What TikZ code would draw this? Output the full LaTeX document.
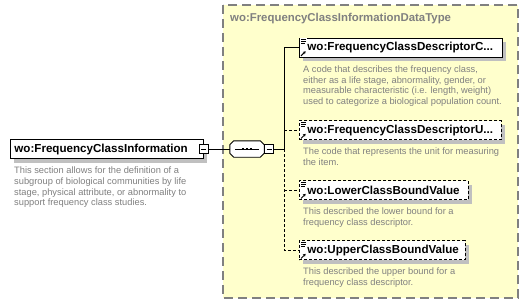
\documentclass[tikz,border=0pt]{standalone}
\usepackage{fontspec}
\setmainfont{Liberation Sans}
\usetikzlibrary{calc,shadows,arrows.meta}
\definecolor{typebg}{RGB}{255,255,204}
\definecolor{typeedge}{RGB}{128,128,128}
\definecolor{doctext}{RGB}{128,128,128}
\definecolor{shadowgray}{RGB}{192,192,192}

% small marker drawn at the left end of an element box
\newcommand\elemicons[1]{%
  \fill[white] ($(#1.north west)+(0.5,0.5)$) rectangle ($(#1.north west)+(7.5,7)$);
  \draw[line width=0.7pt] ($(#1.north west)+(2,2)$) -- ++(5,0);
  \draw[line width=0.7pt] ($(#1.north west)+(2,4)$) -- ++(5,0);
  \draw[line width=0.7pt] ($(#1.north west)+(2,6)$) -- ++(4,0);
  \draw[line width=1pt,-{Stealth[length=2.6pt,width=3.2pt]}] ($(#1.south west)+(2,-1.5)$) -- ++(4.6,-4.6);
}

\begin{document}
\begin{tikzpicture}[x=1pt,y=-1pt,
  boxshadow/.style={drop shadow={shadow xshift=4pt,shadow yshift=-4pt,fill=shadowgray,opacity=1}},
  elem/.style={draw=black,line width=0.9pt,fill=white,boxshadow,minimum height=19pt,
    inner ysep=0pt,inner xsep=8pt,text width=#1,align=left,anchor=west,
    font=\fontsize{11.6}{13}\selectfont\bfseries},
  optelem/.style={elem=#1,dash pattern=on 3pt off 2pt},
  collapse/.style={draw=black,line width=0.8pt,fill=white,minimum size=9pt,inner sep=0pt,
    path picture={\draw[line width=0.8pt]
      ([xshift=2pt]path picture bounding box.west) -- ([xshift=-2pt]path picture bounding box.east);}},
  doc/.style={anchor=north west,inner sep=0pt,align=left,text=doctext,
    font=\fontsize{9.3}{10.6}\selectfont},
  wire/.style={line width=0.8pt},
  optwire/.style={wire,dash pattern=on 3pt off 2pt},
]
\useasboundingbox (0,0) rectangle (529,305);
\fill[white] (0,0) rectangle (529,305);

% complex type area
\draw[fill=typebg,draw=typeedge,line width=1.5pt,dash pattern=on 9pt off 5pt] (223,5) rectangle (518,298);
\node[anchor=west,inner sep=0pt,text=doctext,font=\fontsize{11.4}{13}\selectfont\bfseries]
  (typetitle) at (230,19) {wo:FrequencyClassInformationDataType};

% root element
\node[elem=185pt,inner xsep=4pt] (main) at (10,149) {wo:FrequencyClassInformation};
\node[collapse] (mm) at (203.5,149) {};
\node[doc] (d0) at (14,167) {This section allows for the definition of a\\
  subgroup of biological communities by life\\
  stage, physical attribute, or abnormality to\\
  support frequency class studies.};

% sequence compositor
\node[minimum width=34pt,minimum height=16pt,inner sep=0pt] (seq) at (247,149) {};
\fill[shadowgray,shift={(3,3)}]
  ($(seq.north west)+(4,0)$) -- ($(seq.north east)+(-4,0)$) -- ($(seq.north east)+(0,4)$) --
  ($(seq.south east)+(0,-4)$) -- ($(seq.south east)+(-4,0)$) -- ($(seq.south west)+(4,0)$) --
  ($(seq.south west)+(0,-4)$) -- ($(seq.north west)+(0,4)$) -- cycle;
\draw[fill=white,line width=0.9pt]
  ($(seq.north west)+(4,0)$) -- ($(seq.north east)+(-4,0)$) -- ($(seq.north east)+(0,4)$) --
  ($(seq.south east)+(0,-4)$) -- ($(seq.south east)+(-4,0)$) -- ($(seq.south west)+(4,0)$) --
  ($(seq.south west)+(0,-4)$) -- ($(seq.north west)+(0,4)$) -- cycle;
\draw[line width=0.8pt] ($(seq.west)+(5,0)$) -- ($(seq.east)+(-5,0)$);
\foreach \dx in {-4,0,4}
  \fill ($(seq.center)+(\dx,0)+(-1.2,-1.2)$) rectangle ++(2.4,2.4);
\node[collapse] (sm) at (269,149) {};
\coordinate (bus) at (284,149);

% child elements
\node[elem=187pt] (c1) at (299,47.5) {wo:FrequencyClassDescriptorC...};
\node[optelem=186pt] (c2) at (299,130) {wo:FrequencyClassDescriptorU...};
\node[optelem=153pt] (c3) at (299,190) {wo:LowerClassBoundValue};
\node[optelem=150pt] (c4) at (299,250) {wo:UpperClassBoundValue};
\elemicons{c1}
\elemicons{c2}
\elemicons{c3}
\elemicons{c4}

\node[doc] (d1) at (303,65.5) {A code that describes the frequency class,\\
  either as a life stage, abnormality, gender, or\\
  measurable characteristic (i.e. length, weight)\\
  used to categorize a biological population count.};
\node[doc] (d2) at (303,147.5) {The code that represents the unit for measuring\\the item.};
\node[doc] (d3) at (303,207.5) {This described the lower bound for a\\frequency class descriptor.};
\node[doc] (d4) at (303,267.5) {This described the upper bound for a\\frequency class descriptor.};

% connectors
\draw[wire] (mm.east) -- (seq.west);
\draw[wire] (sm.east) -- (bus);
\draw[wire] (bus) |- (c1.west);
\draw[optwire] (bus) |- (c4.west);
\draw[optwire] (bus |- c2.west) -- (c2.west);
\draw[optwire] (bus |- c3.west) -- (c3.west);
\end{tikzpicture}
\end{document}
